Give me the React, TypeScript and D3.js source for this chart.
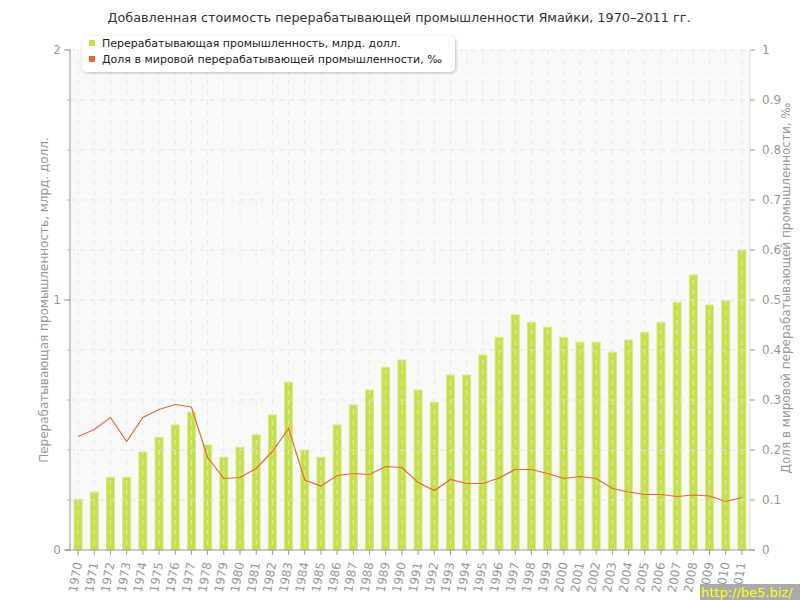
import React from "react";
import * as d3 from "d3";

const years = d3.range(1970, 2012).map(String);
const valueAdded = [
  0.203, 0.231, 0.291, 0.291, 0.392, 0.451, 0.5, 0.551, 0.42, 0.371,
  0.411, 0.46, 0.54, 0.671, 0.4, 0.371, 0.5, 0.58, 0.64, 0.731,
  0.76, 0.64, 0.591, 0.7, 0.7, 0.78, 0.851, 0.941, 0.911, 0.891,
  0.851, 0.831, 0.831, 0.791, 0.84, 0.871, 0.911, 0.991, 1.1, 0.98,
  0.997, 1.2,
];
const worldShare = [
  0.227, 0.241, 0.265, 0.217, 0.265, 0.281, 0.291, 0.286, 0.185, 0.143,
  0.145, 0.163, 0.197, 0.243, 0.14, 0.128, 0.149, 0.153, 0.151, 0.167,
  0.165, 0.135, 0.119, 0.141, 0.133, 0.133, 0.144, 0.161, 0.161, 0.153,
  0.143, 0.147, 0.143, 0.123, 0.116, 0.111, 0.111, 0.107, 0.11, 0.108,
  0.097, 0.105,
];
const leftTicks = [0, 1, 2];
const rightTicks = [0, 0.1, 0.2, 0.3, 0.4, 0.5, 0.6, 0.7, 0.8, 0.9, 1];

const title = "Добавленная стоимость перерабатывающей промышленности Ямайки, 1970–2011 гг.";
const seriesNames = [
  "Перерабатывающая промышленность, млрд. долл.",
  "Доля в мировой перерабатывающей промышленности, ‰",
];
const leftLabel = "Перерабатывающая промышленность, млрд. долл.";
const rightLabel = "Доля в мировой перерабатывающей промышленности, ‰";

const W = 800, H = 600;
const L = 70, R = 750, T = 50, B = 550;
const font = "'DejaVu Sans', Verdana, sans-serif";
const barColor = "#c6e04a";
const lineColor = "#e8673a";

export default function App() {
  const x = d3.scaleBand().domain(years).range([L, R]).paddingInner(0).paddingOuter(0);
  const yL = d3.scaleLinear().domain([0, 2]).range([B, T]);
  const yR = d3.scaleLinear().domain([0, 1]).range([B, T]);
  const cx = (y: string) => (x(y) as number) + x.bandwidth() / 2;
  const bw = 8;
  const line = d3
    .line<number>()
    .x((_, i) => cx(years[i]))
    .y((d) => yR(d));
  const gridY = d3.range(0.1, 1.0001, 0.1);
  const minorL = d3.range(0, 2.0001, 0.2);

  return (
    <svg width={W} height={H} style={{ position: "absolute", left: 0, top: 0, background: "#fff" }}>
      <text x={399} y={22} textAnchor="middle" fontFamily={font} fontSize={12.8} fill="#333">
        {title}
      </text>
      <rect x={L} y={T} width={R - L} height={B - T} fill="#f9f9f9" />
      {years.map((y, i) => (
        <rect
          key={y}
          x={cx(y) - bw / 2}
          y={yL(valueAdded[i])}
          width={bw}
          height={B - yL(valueAdded[i])}
          fill={barColor}
          stroke="#d7ea8a"
          strokeWidth={1}
        />
      ))}
      {gridY.map((v) => (
        <line key={"gy" + v} x1={L} x2={R} y1={yR(v)} y2={yR(v)} stroke="#e2e2e2" strokeDasharray="5,5" opacity={0.9} />
      ))}
      {years.map((y) => (
        <line key={"gx" + y} x1={cx(y)} x2={cx(y)} y1={T} y2={B} stroke="#e6e6e6" strokeDasharray="5,5" opacity={0.85} />
      ))}
      <path d={line(worldShare) || ""} fill="none" stroke={lineColor} strokeWidth={1.2} />
      {/* left axis */}
      <line x1={L} x2={L} y1={T} y2={B} stroke="#999" />
      {minorL.map((v) => (
        <line key={"ml" + v} x1={L - 3} x2={L} y1={yL(v)} y2={yL(v)} stroke="#bbb" />
      ))}
      {leftTicks.map((v) => (
        <g key={"lt" + v}>
          <line x1={L - 6} x2={L} y1={yL(v)} y2={yL(v)} stroke="#999" />
          <text x={L - 9} y={yL(v) + 4} textAnchor="end" fontFamily={font} fontSize={12} fill="#999">
            {v}
          </text>
        </g>
      ))}
      {/* right axis */}
      <line x1={R} x2={R} y1={T} y2={B} stroke="#ddd" />
      {rightTicks.map((v) => (
        <g key={"rt" + v}>
          <line x1={R} x2={R + 5} y1={yR(v)} y2={yR(v)} stroke="#999" />
          <text x={R + 12} y={yR(v) + 4} textAnchor="start" fontFamily={font} fontSize={12} fill="#999">
            {v}
          </text>
        </g>
      ))}
      {/* bottom axis */}
      <line x1={L - 5} x2={R + 5} y1={B} y2={B} stroke="#999" />
      {years.map((y) => (
        <g key={"xt" + y}>
          <line x1={cx(y)} x2={cx(y)} y1={B} y2={B + 5} stroke="#999" />
          <text
            transform={`translate(${cx(y) + 4},${B + 13}) rotate(-80)`}
            textAnchor="end"
            fontFamily={font}
            fontSize={12}
            fill="#999"
          >
            {y}
          </text>
        </g>
      ))}
      <text
        transform={`translate(48,${(T + B) / 2}) rotate(-90)`}
        textAnchor="middle"
        fontFamily={font}
        fontSize={12}
        fill="#999"
      >
        {leftLabel}
      </text>
      <text
        transform={`translate(790,${(T + B) / 2 - 12}) rotate(-90)`}
        textAnchor="middle"
        fontFamily={font}
        fontSize={12}
        fill="#999"
      >
        {rightLabel}
      </text>
      {/* legend */}
      <defs>
        <filter id="sh" x="-10%" y="-30%" width="120%" height="160%">
          <feDropShadow dx="1" dy="1" stdDeviation="1.5" floodColor="#000" floodOpacity="0.25" />
        </filter>
      </defs>
      <rect x={82} y={36} width={373} height={36} rx={5} fill="#fff" filter="url(#sh)" />
      {seriesNames.map((s, i) => (
        <g key={s}>
          <rect x={89} y={40 + i * 16} width={6} height={6} fill={i === 0 ? barColor : lineColor} />
          <text x={102} y={47 + i * 16} fontFamily={font} fontSize={11} fill="#222">
            {s}
          </text>
        </g>
      ))}
      {/* watermark */}
      <rect x={700} y={584} width={100} height={16} fill="#aaa" />
      <text x={701} y={597} fontFamily={font} fontSize={13} fill="#ffff00">
        http://be5.biz/
      </text>
    </svg>
  );
}
